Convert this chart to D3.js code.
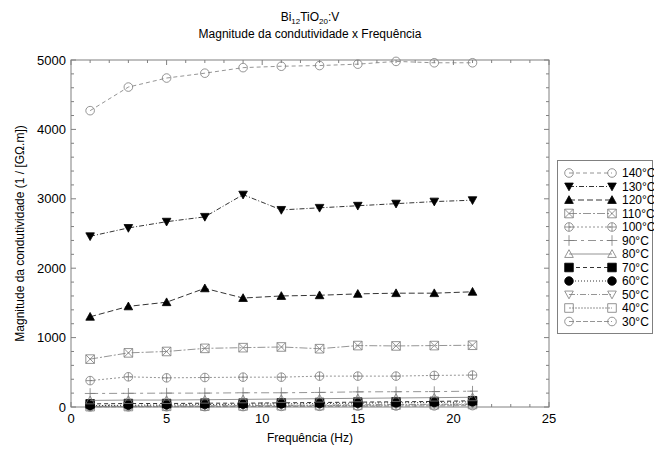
<!DOCTYPE html>
<html>
<head>
<meta charset="utf-8">
<script src="https://cdn.jsdelivr.net/npm/d3@7"></script>
<style>
  body { margin: 0; background: #fff; }
  text { font-family: "Liberation Sans", Arial, sans-serif; fill: #000; }
</style>
</head>
<body>
<div id="chart"></div>
<script>
var freq = [1, 3, 5, 7, 9, 11, 13, 15, 17, 19, 21];

var labels = ["140°C", "130°C", "120°C", "110°C", "100°C", "90°C", "80°C", "70°C", "60°C", "50°C", "40°C", "30°C"];

var s140 = [4270, 4610, 4740, 4810, 4890, 4910, 4920, 4940, 4980, 4960, 4960];
var s130 = [2460, 2580, 2670, 2740, 3060, 2840, 2870, 2900, 2930, 2960, 2980];
var s120 = [1300, 1450, 1510, 1710, 1570, 1600, 1610, 1630, 1640, 1640, 1660];
var s110 = [690, 780, 800, 845, 855, 865, 840, 885, 880, 885, 890];
var s100 = [380, 435, 420, 425, 430, 430, 445, 445, 445, 455, 460];
var s90 = [195, 197, 200, 200, 205, 205, 210, 218, 220, 222, 228];
var s80 = [95, 100, 100, 105, 110, 115, 120, 125, 130, 135, 140];
var s70 = [45, 50, 50, 55, 55, 60, 65, 70, 75, 80, 90];
var s60 = [20, 25, 30, 35, 40, 45, 50, 55, 60, 65, 75];
var s50 = [10, 12, 15, 18, 20, 25, 28, 32, 36, 40, 45];
var s40 = [5, 7, 10, 12, 15, 18, 20, 24, 28, 32, 36];
var s30 = [2, 3, 4, 5, 6, 8, 10, 12, 14, 16, 20];

var seriesValues = [s140, s130, s120, s110, s100, s90, s80, s70, s60, s50, s40, s30];

var xTicks = [0, 5, 10, 15, 20, 25];
var yTicks = [0, 1000, 2000, 3000, 4000, 5000];

// look of each series, same order as labels
var markers = ["circleH", "triDown", "triUp", "squareX", "circlePlus", "plus", "triUpOpen", "square", "circle", "triDownOpen", "squareOpen", "circleOpen"];
var dashes = ["4,3", "5,2,1,2", "6,3", "8,2,2,2", "2,2", "8,4,3,4", null, "4,3", "1,2", "6,2,1,2", "2,1", "5,2"];

var width = 654, height = 451;
var margin = {left: 71, right: 105, top: 60, bottom: 44};

var svg = d3.select("#chart").append("svg")
  .attr("width", width)
  .attr("height", height);

var x = d3.scaleLinear().domain([0, 25]).range([margin.left, width - margin.right]);
var y = d3.scaleLinear().domain([0, 5000]).range([height - margin.bottom, margin.top]);

var frameColor = "#808080";

function markerPath(type) {
  var r = 4.3;
  switch (type) {
    case "circleH": case "circle": case "circleOpen":
      return "M" + (-r) + ",0A" + r + "," + r + " 0 1,0 " + r + ",0A" + r + "," + r + " 0 1,0 " + (-r) + ",0Z";
    case "circlePlus":
      return "M" + (-r) + ",0A" + r + "," + r + " 0 1,0 " + r + ",0A" + r + "," + r + " 0 1,0 " + (-r) + ",0Z" +
        "M" + (-r) + ",0H" + r + "M0," + (-r) + "V" + r;
    case "triUp": case "triUpOpen":
      return "M0," + (-r) + "L" + r + "," + (r * 0.8) + "L" + (-r) + "," + (r * 0.8) + "Z";
    case "triDown": case "triDownOpen":
      return "M0," + r + "L" + r + "," + (-r * 0.8) + "L" + (-r) + "," + (-r * 0.8) + "Z";
    case "square": case "squareOpen":
      return "M" + (-r) + "," + (-r) + "H" + r + "V" + r + "H" + (-r) + "Z";
    case "squareX":
      return "M" + (-r) + "," + (-r) + "H" + r + "V" + r + "H" + (-r) + "Z" +
        "M" + (-r) + "," + (-r) + "L" + r + "," + r + "M" + r + "," + (-r) + "L" + (-r) + "," + r;
    case "plus":
      return "M" + (-r - 1) + ",0H" + (r + 1) + "M0," + (-r - 1) + "V" + (r + 1);
  }
}

function isFilled(type) {
  return type == "triDown" || type == "triUp" || type == "square" || type == "circle";
}

function seriesColor(i) {
  return isFilled(markers[i]) ? "#000" : "#7a7a7a";
}

// frame
svg.append("rect")
  .attr("x", x(0))
  .attr("y", y(5000))
  .attr("width", x(25) - x(0))
  .attr("height", y(0) - y(5000))
  .attr("fill", "none")
  .attr("stroke", frameColor)
  .attr("stroke-width", 1);

// ticks, inward and mirrored
var xMinor = d3.range(0, 26, 1);
var yMinor = d3.range(0, 5001, 200);

function tickLen(v, majors) { return majors.indexOf(v) >= 0 ? 5 : 3; }

svg.append("g").selectAll("line.xb")
  .data(xMinor).enter().append("line")
  .attr("x1", function(d) { return x(d); })
  .attr("x2", function(d) { return x(d); })
  .attr("y1", y(0))
  .attr("y2", function(d) { return y(0) - tickLen(d, xTicks); })
  .attr("stroke", frameColor);

svg.append("g").selectAll("line.xt")
  .data(xMinor).enter().append("line")
  .attr("x1", function(d) { return x(d); })
  .attr("x2", function(d) { return x(d); })
  .attr("y1", y(5000))
  .attr("y2", function(d) { return y(5000) + tickLen(d, xTicks); })
  .attr("stroke", frameColor);

svg.append("g").selectAll("line.yl")
  .data(yMinor).enter().append("line")
  .attr("y1", function(d) { return y(d); })
  .attr("y2", function(d) { return y(d); })
  .attr("x1", x(0))
  .attr("x2", function(d) { return x(0) + tickLen(d, yTicks); })
  .attr("stroke", frameColor);

svg.append("g").selectAll("line.yr")
  .data(yMinor).enter().append("line")
  .attr("y1", function(d) { return y(d); })
  .attr("y2", function(d) { return y(d); })
  .attr("x1", x(25))
  .attr("x2", function(d) { return x(25) - tickLen(d, yTicks); })
  .attr("stroke", frameColor);

// tick labels
svg.append("g").selectAll("text")
  .data(xTicks).enter().append("text")
  .attr("x", function(d) { return x(d); })
  .attr("y", y(0) + 16)
  .attr("text-anchor", "middle")
  .style("font-size", "13px")
  .text(function(d) { return d; });

svg.append("g").selectAll("text")
  .data(yTicks).enter().append("text")
  .attr("x", x(0) - 5)
  .attr("y", function(d) { return y(d); })
  .attr("dy", ".35em")
  .attr("text-anchor", "end")
  .style("font-size", "13px")
  .text(function(d) { return d; });

// titles
var title = svg.append("text")
  .attr("x", (x(0) + x(25)) / 2)
  .attr("y", 21)
  .attr("text-anchor", "middle")
  .style("font-size", "12px");
title.append("tspan").text("Bi");
title.append("tspan").attr("dy", 3).style("font-size", "8px").text("12");
title.append("tspan").attr("dy", -3).text("TiO");
title.append("tspan").attr("dy", 3).style("font-size", "8px").text("20");
title.append("tspan").attr("dy", -3).text(":V");

svg.append("text")
  .attr("x", (x(0) + x(25)) / 2)
  .attr("y", 38)
  .attr("text-anchor", "middle")
  .style("font-size", "12px")
  .text("Magnitude da condutividade x Frequência");

svg.append("text")
  .attr("x", (x(0) + x(25)) / 2)
  .attr("y", 442)
  .attr("text-anchor", "middle")
  .style("font-size", "12px")
  .text("Frequência (Hz)");

svg.append("text")
  .attr("transform", "translate(24," + ((y(0) + y(5000)) / 2) + ") rotate(-90)")
  .attr("text-anchor", "middle")
  .style("font-size", "12px")
  .text("Magnitude da condutividade (1 / [GΩ.m])");

// series, lowest first so the upper ones sit on top
var line = d3.line()
  .x(function(d) { return x(d[0]); })
  .y(function(d) { return y(d[1]); });

var order = d3.range(seriesValues.length).reverse();

order.forEach(function(i) {
  var pts = freq.map(function(f, j) { return [f, seriesValues[i][j]]; });
  var g = svg.append("g");
  g.append("path")
    .attr("d", line(pts))
    .attr("fill", "none")
    .attr("stroke", seriesColor(i))
    .attr("stroke-width", 0.8)
    .attr("stroke-dasharray", dashes[i]);
  g.selectAll("path.m")
    .data(pts).enter().append("path")
    .attr("class", "m")
    .attr("transform", function(d) { return "translate(" + x(d[0]) + "," + y(d[1]) + ")"; })
    .attr("d", markerPath(markers[i]))
    .attr("fill", isFilled(markers[i]) ? "#000" : "none")
    .attr("stroke", seriesColor(i))
    .attr("stroke-width", 0.8);
});

// legend
svg.append("rect")
  .attr("x", 557.5)
  .attr("y", 160.5)
  .attr("width", 95)
  .attr("height", 173)
  .attr("fill", "#fff")
  .attr("stroke", frameColor);

var legend = svg.selectAll(".legend")
  .data(labels)
  .enter().append("g")
  .attr("class", "legend")
  .attr("transform", function(d, i) { return "translate(0," + (173 + i * 13.5) + ")"; });

legend.append("line")
  .attr("x1", 569)
  .attr("x2", 612)
  .attr("y1", 0)
  .attr("y2", 0)
  .attr("stroke", function(d, i) { return seriesColor(i); })
  .attr("stroke-width", 0.8)
  .attr("stroke-dasharray", function(d, i) { return dashes[i]; });

[569, 612].forEach(function(px) {
  legend.append("path")
    .attr("transform", "translate(" + px + ",0)")
    .attr("d", function(d, i) { return markerPath(markers[i]); })
    .attr("fill", function(d, i) { return isFilled(markers[i]) ? "#000" : "none"; })
    .attr("stroke", function(d, i) { return seriesColor(i); })
    .attr("stroke-width", 0.8);
});

legend.append("text")
  .attr("x", 622)
  .attr("y", 0)
  .attr("dy", ".35em")
  .style("font-size", "12px")
  .text(function(d) { return d; });
</script>
</body>
</html>
